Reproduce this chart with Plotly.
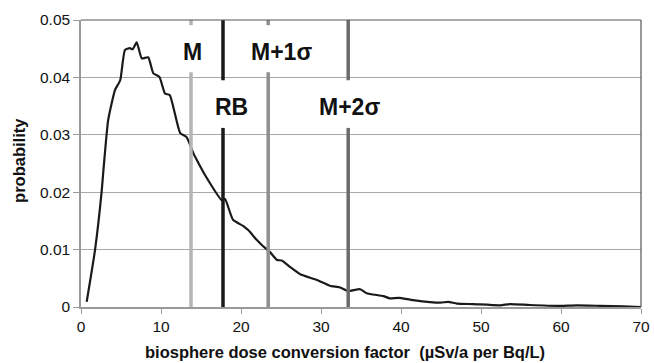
import plotly.graph_objects as go

# probability density curve
dose_x = [0.71, 1.75, 2.58, 2.79, 3.4, 4.25, 4.9, 5.5, 6.1, 6.46, 6.96, 7.6, 8.4, 9.04, 9.8,
          10.5, 11.1, 12.4, 13.2, 14.04, 14.25, 15.5, 17.6, 18.0, 19.0, 20.3, 20.9, 21.96,
          22.6, 23.6, 24.5, 25.1, 26.1, 27.4, 29.5, 31.1, 32.4, 33.4, 34.9, 35.7, 37.8,
          38.6, 39.7, 41.5, 44.9, 45.9, 47.0, 49.0, 52.4, 53.6, 56.1, 59.5, 62.0, 64.9,
          67.8, 70.0]
probability = [0.0009, 0.0099, 0.0201, 0.0236, 0.0326, 0.0378, 0.0395, 0.0448, 0.0451, 0.0449,
               0.0461, 0.0433, 0.0435, 0.0407, 0.0401, 0.0372, 0.0369, 0.0303, 0.0296, 0.0268,
               0.0262, 0.0230, 0.0186, 0.0188, 0.0152, 0.0141, 0.0134, 0.0117, 0.0108, 0.0096,
               0.0082, 0.0081, 0.0070, 0.0057, 0.0047, 0.0037, 0.0034, 0.0028, 0.0031, 0.0024,
               0.0019, 0.0015, 0.0016, 0.0012, 0.00075, 0.0009, 0.0006, 0.0005, 0.0003, 0.0005,
               0.00035, 0.0002, 0.0003, 0.0002, 0.0001, 0.0]

# reference markers
marker_names = ["M", "RB", "M+1σ", "M+2σ"]
marker_x = [13.75, 17.75, 23.4, 33.4]
marker_colors = ["#b5b5b5", "#1a1a1a", "#8f8f8f", "#6b6b6b"]
# label positions (x centre, y centre) and gap in the line (y from, y to)
label_x = [13.95, 18.8, 25.1, 33.6]
label_y = [0.0444, 0.0348, 0.0444, 0.0348]
gap_lo = [0.0409, 0.0312, 0.0409, 0.0312]
gap_hi = [0.0491, 0.0395, 0.0491, 0.0395]

x_ticks = [0, 10, 20, 30, 40, 50, 60, 70]
y_ticks = [0, 0.01, 0.02, 0.03, 0.04, 0.05]
y_tick_text = ["0", "0.01", "0.02", "0.03", "0.04", "0.05"]

fig = go.Figure()

shapes = []
for xv, col, lo, hi in zip(marker_x, marker_colors, gap_lo, gap_hi):
    shapes.append(dict(type="line", xref="x", yref="y", x0=xv, x1=xv, y0=0, y1=lo,
                       line=dict(color=col, width=3.5), layer="above"))
    shapes.append(dict(type="line", xref="x", yref="y", x0=xv, x1=xv, y0=hi, y1=0.05,
                       line=dict(color=col, width=3.5), layer="above"))
# top and right border
shapes.append(dict(type="line", xref="paper", yref="paper", x0=0, x1=1, y0=1, y1=1,
                   line=dict(color="#555555", width=1.2)))
shapes.append(dict(type="line", xref="paper", yref="paper", x0=1, x1=1, y0=0, y1=1,
                   line=dict(color="#555555", width=1.2)))

fig.add_trace(go.Scatter(x=dose_x, y=probability, mode="lines",
                         line=dict(color="#1a1a1a", width=2.2, shape="spline", smoothing=0.5),
                         showlegend=False, hoverinfo="skip"))

annotations = []
for name, lx, ly in zip(marker_names, label_x, label_y):
    annotations.append(dict(x=lx, y=ly, xref="x", yref="y", text="<b>" + name + "</b>",
                            showarrow=False, xanchor="center", yanchor="middle",
                            font=dict(family="Liberation Sans, Arial", size=23, color="#111111")))
annotations.append(dict(x=0.471, y=-0.157, xref="paper", yref="paper", yanchor="middle",
                        xanchor="center", showarrow=False,
                        text="<b>biosphere dose conversion factor  (µSv/a per Bq/L)</b>",
                        font=dict(family="Liberation Sans, Arial", size=16.5, color="#111111")))
annotations.append(dict(x=-0.111, y=0.512, xref="paper", yref="paper", textangle=-90,
                        xanchor="center", yanchor="middle", showarrow=False,
                        text="<b>probability</b>",
                        font=dict(family="Liberation Sans, Arial", size=16.5, color="#111111")))

fig.update_layout(
    width=654, height=363,
    margin=dict(l=81, r=13, t=20, b=56),
    paper_bgcolor="white", plot_bgcolor="white",
    shapes=shapes, annotations=annotations,
    font=dict(family="Liberation Sans, Arial", size=15.5, color="#111111"),
    xaxis=dict(range=[0, 70], tickvals=x_ticks, ticks="outside", ticklen=5,
               tickcolor="#999999", showline=True, linecolor="#999999", linewidth=1.5,
               showgrid=False, zeroline=False, tickfont=dict(size=15.5), automargin=False),
    yaxis=dict(range=[0, 0.05], tickvals=y_ticks, ticktext=y_tick_text, ticks="outside",
               ticklen=6, tickcolor="#999999", showline=True, linecolor="#999999",
               linewidth=1.5, showgrid=True, gridcolor="#a8a8a8", gridwidth=1.2,
               zeroline=False, tickfont=dict(size=15.5), automargin=False),
)

fig.write_html("out.html", config={"displayModeBar": False},
               post_script="document.body.style.margin='0';document.body.style.overflow='hidden';")
